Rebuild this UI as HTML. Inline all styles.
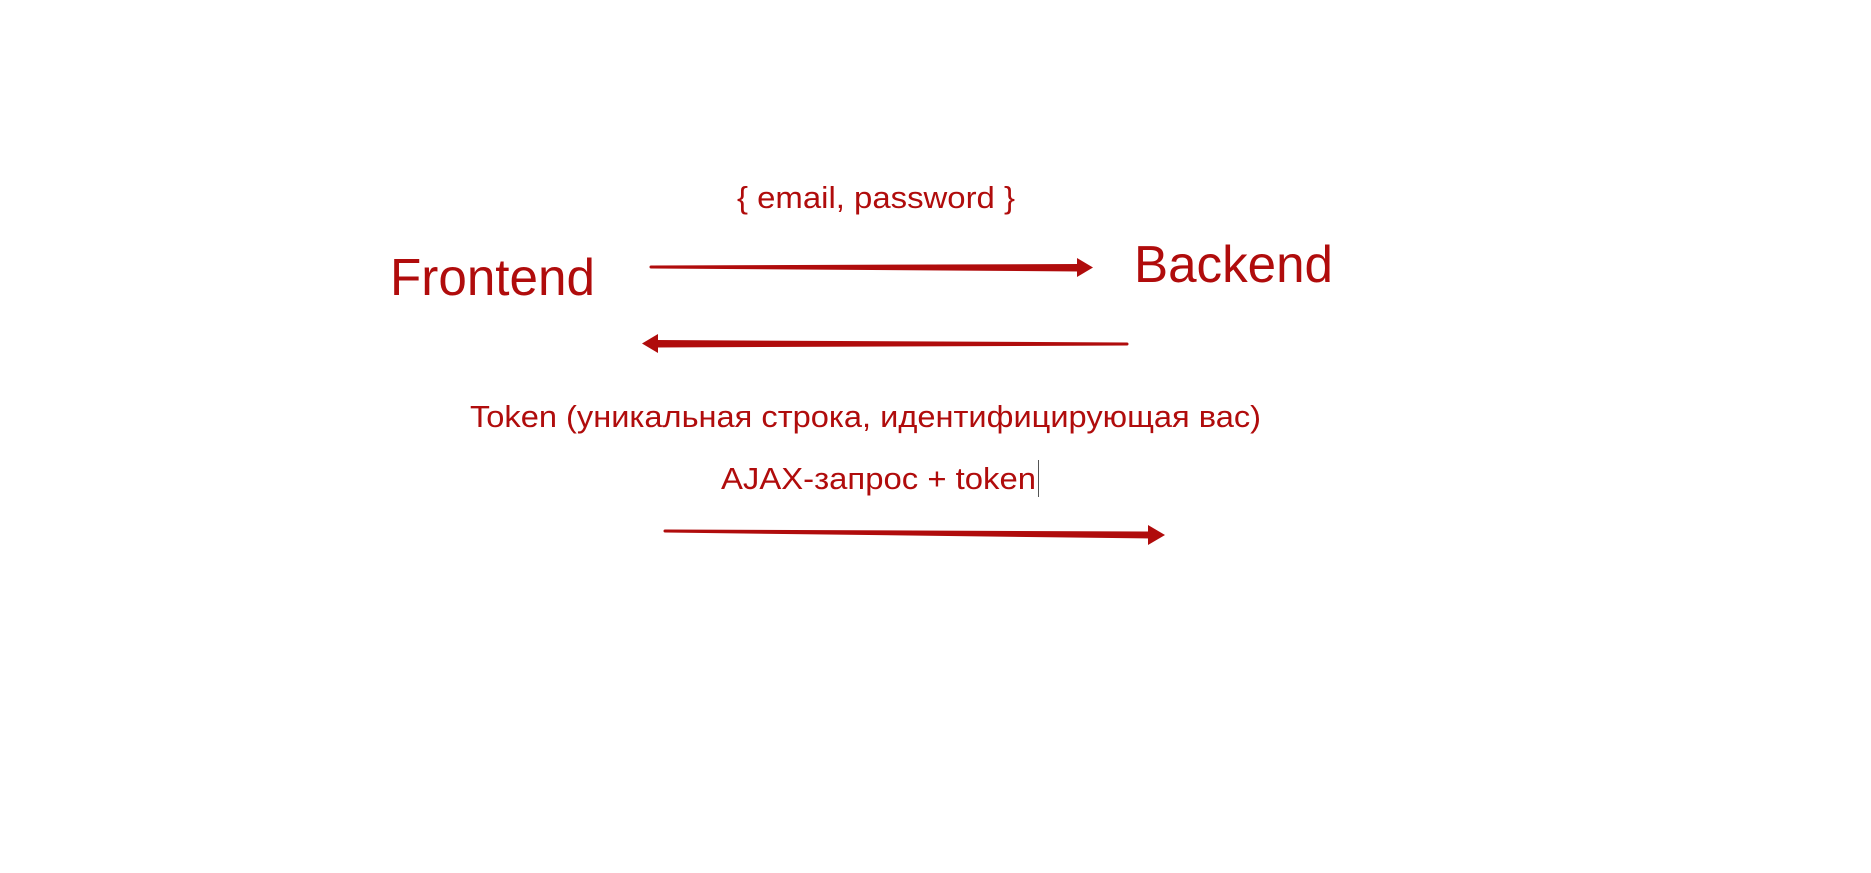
<!DOCTYPE html>
<html><head><meta charset="utf-8"><style>html,body{margin:0;padding:0;background:#fff;}svg{display:block}</style></head>
<body>
<svg width="1871" height="873" viewBox="0 0 1871 873" xmlns="http://www.w3.org/2000/svg" font-family="Liberation Sans, Arial, sans-serif" fill="#b00c0c">
<text x="737" y="208" font-size="31" textLength="278" lengthAdjust="spacingAndGlyphs">{ email, password }</text>
<text x="390" y="295" font-size="52" textLength="205" lengthAdjust="spacingAndGlyphs">Frontend</text>
<text x="1134" y="282" font-size="52" textLength="199" lengthAdjust="spacingAndGlyphs">Backend</text>
<text x="470" y="427" font-size="31" textLength="791" lengthAdjust="spacingAndGlyphs">Token (уникальная строка, идентифицирующая вас)</text>
<text x="721" y="489" font-size="31" textLength="315" lengthAdjust="spacingAndGlyphs">AJAX-запрос + token</text>
<line x1="1038.5" y1="460" x2="1038.5" y2="497" stroke="#555" stroke-width="1"/>
<polygon points="651,265.5 651,268.5 1080,271.5 1080,264"/>
<circle cx="651" cy="267" r="1.5"/>
<polygon points="1077,258 1093,267.5 1077,277"/>
<polygon points="1127,342.5 1127,345.5 656,347.5 656,340"/>
<circle cx="1127" cy="344" r="1.5"/>
<polygon points="658,334 642,343.5 658,353"/>
<polygon points="665,529.5 665,532.5 1152,538.5 1152,531.5"/>
<circle cx="665" cy="531" r="1.5"/>
<polygon points="1148,525 1165,535 1148,545"/>
</svg>
</body></html>
